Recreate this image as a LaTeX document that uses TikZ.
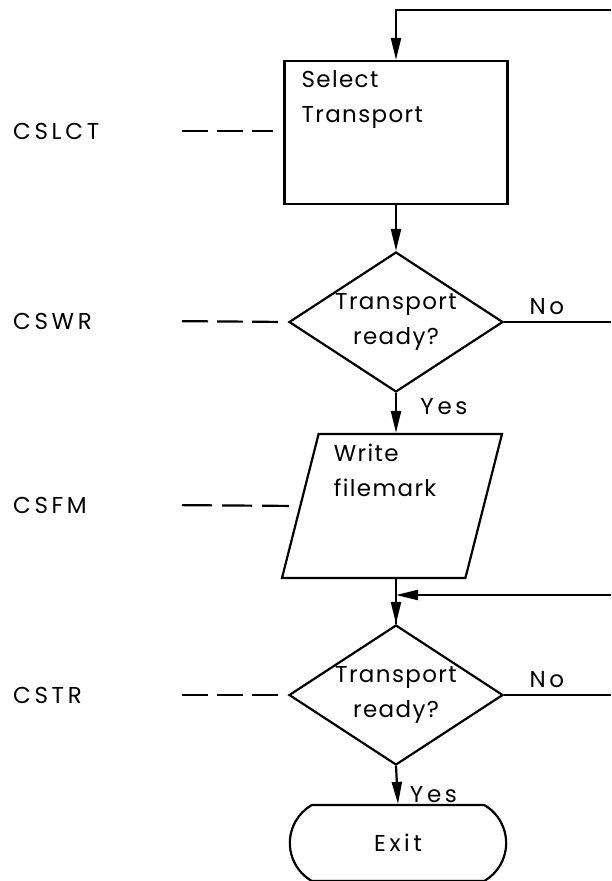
\documentclass[tikz,border=0pt]{standalone}
\usepackage{fontspec}
\setmainfont[LetterSpace=6]{Poppins}
\newfontfamily\spacedfont[LetterSpace=16]{Poppins}
\usepackage{tikz}
\usetikzlibrary{shapes}
\usetikzlibrary{arrows.meta}
\usetikzlibrary{positioning}
\tikzstyle{process}=[rectangle,draw=black,minimum width=223pt,minimum height=143pt,inner sep=0mm]
\tikzstyle{decision}=[diamond,draw=black,aspect=1.53,minimum width=214pt,minimum height=140pt,inner sep=0mm,align=center]
\tikzstyle{io}=[trapezium,draw=black,trapezium left angle=76,trapezium right angle=104,trapezium stretches=true,minimum width=220pt,minimum height=144pt,inner sep=3pt]
\tikzstyle{term}=[rounded rectangle,rounded rectangle arc length=120,draw=black,minimum width=223pt,minimum height=76pt,font=\spacedfont\fontsize{23}{35}\selectfont]
\tikzstyle{txt}=[align=left,inner sep=0mm]
\tikzstyle{tag}=[anchor=west,text width=150pt,inner sep=0mm,font=\spacedfont\fontsize{23}{35}\selectfont]
\tikzstyle{lbl}=[font=\spacedfont\fontsize{23}{35}\selectfont]
\tikzstyle{dashlink}=[dash pattern=on 26pt off 9pt,shorten <=18pt,shorten >=10pt]
\tikzstyle{arrow}=[-{Triangle[length=22pt,width=10pt]}]
\tikzset{every picture/.style={
    line width=2.2pt
  },
  every node/.style={font=\fontsize{23}{35}\selectfont}
}

\begin{document}
\begin{tikzpicture}[x=1pt,y=-1pt]
      \useasboundingbox (0,0) rectangle (611,881);
      \node[process] at (396,132.5) (slct) {};
      \node[txt,below right=9pt and 17pt of slct.north west] (slcttxt) {Select\\Transport};
      \node[decision] at (396,322) (wrdy) {Transport\\ready?};
      \node[io] at (392,506) (wfm) {};
      \node[txt,below right=10pt and 15pt of wfm.top left corner] (wfmtxt) {Write\\filemark};
      \node[decision] at (396,695) (trdy) {Transport\\ready?};
      \node[term] at (398,843) (exit) {Exit};
      \coordinate (back1) at (611,10);
      \coordinate (back2) at (611,595);
      \coordinate (no1) at (611,322);
      \coordinate (no2) at (611,695);
      \node[tag] at (12,131) (cslct) {CSLCT};
      \node[tag] at (12,321) (cswr) {CSWR};
      \node[tag] at (12,505) (csfm) {CSFM};
      \node[tag] at (12,695) (cstr) {CSTR};
      \draw[dashlink] (cslct.east) -- (cslct.east -| slct.west);
      \draw[dashlink] (cswr.east) -- (wrdy.west);
      \draw[dashlink,dash pattern=on 30pt off 10pt] (csfm.east) -- (wfm.west);
      \draw[dashlink] (cstr.east) -- (trdy.west);
      \draw[arrow] (back1) -| (slct.north);
      \draw[arrow] (slct.south) -- (wrdy.north);
      \draw (wrdy.east) -- node[lbl,above=3pt,pos=0.4] {No} (no1);
      \draw[arrow] (wrdy.south) -- node[lbl,anchor=west,xshift=20pt,pos=0.35] {Yes} (wrdy.south |- wfm.north);
      \draw (wfm.south -| trdy.north) -- (trdy.north);
      \draw[arrow] (back2) -- (back2 -| trdy.north);
      \draw[arrow] (back2 -| trdy.north) -- (trdy.north);
      \draw (trdy.east) -- node[lbl,above=3pt,pos=0.4] {No} (no2);
      \draw[arrow] (trdy.south) -- node[lbl,anchor=west,xshift=8pt,pos=0.75] {Yes} (exit.north);
    \end{tikzpicture}
\end{document}
